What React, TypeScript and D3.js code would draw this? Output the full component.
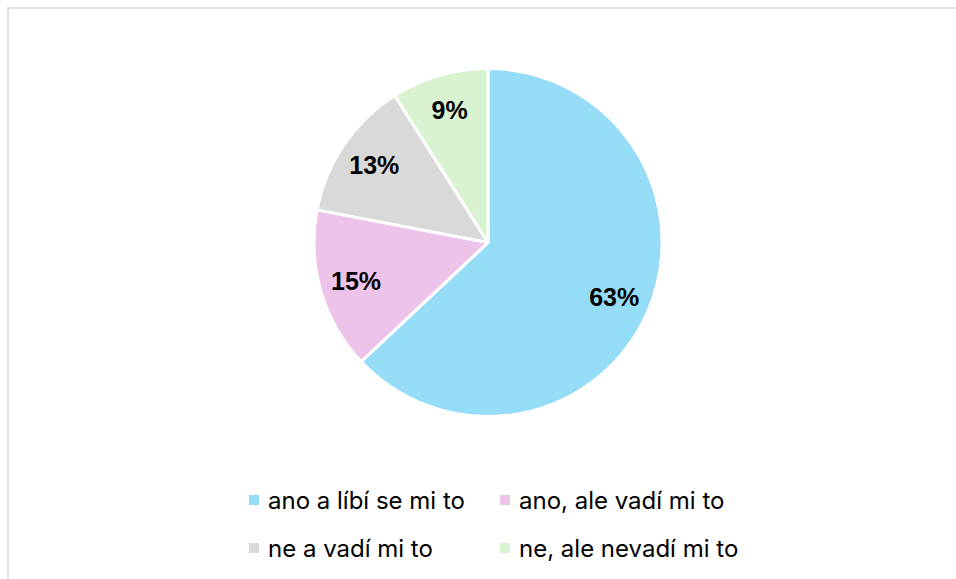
import { useEffect, useRef } from 'react'
import * as d3 from 'd3'

const categories = ['ano a líbí se mi to', 'ano, ale vadí mi to', 'ne a vadí mi to', 'ne, ale nevadí mi to']
const values = [63, 15, 13, 9]
const colors = ['#95dcf7', '#eec3ea', '#d9d9d9', '#d9f2d0']

export default function App() {
  const ref = useRef<SVGSVGElement>(null)

  useEffect(() => {
    if (!ref.current) return
    const width = 956, height = 579
    const cx = 488, cy = 242.5, radius = 174

    const svg = d3.select(ref.current)
    svg.selectAll('*').remove()

    // chart frame, cut off on right and bottom
    svg.append('rect')
      .attr('x', 8).attr('y', 8)
      .attr('width', width + 20).attr('height', height + 20)
      .attr('fill', '#fff')
      .attr('stroke', '#d9d9d9')
      .attr('stroke-width', 1.5)

    const data = categories.map((c, i) => ({ label: c, value: values[i], color: colors[i] }))
    const pie = d3.pie<any>().sort(null).value(d => d.value)
    const arcs = pie(data)
    const arc = d3.arc<any>().innerRadius(0).outerRadius(radius)
    const labelArc = d3.arc<any>().innerRadius(radius * 0.79).outerRadius(radius * 0.79)

    const g = svg.append('g').attr('transform', `translate(${cx},${cy})`)

    g.selectAll('path')
      .data(arcs)
      .join('path')
      .attr('d', arc)
      .attr('fill', d => d.data.color)
      .attr('stroke', '#fff')
      .attr('stroke-width', 3)
      .attr('stroke-linejoin', 'round')

    g.selectAll('text')
      .data(arcs)
      .join('text')
      .attr('transform', d => `translate(${labelArc.centroid(d)})`)
      .attr('text-anchor', 'middle')
      .attr('dy', '0.36em')
      .style('font-family', '"Liberation Sans", Arial, sans-serif')
      .style('font-weight', 'bold')
      .style('font-size', '25px')
      .attr('fill', '#000')
      .text(d => `${d.data.value}%`)

    // legend, 2 columns x 2 rows
    const col = d3.scaleOrdinal<number, number>().domain([0, 1]).range([249, 500])
    const row = d3.scaleOrdinal<number, number>().domain([0, 1]).range([500, 548])

    const legend = svg.append('g')
    data.forEach((d, i) => {
      const x = col(i % 2), y = row(Math.floor(i / 2))
      legend.append('rect')
        .attr('x', x).attr('y', y - 5)
        .attr('width', 10).attr('height', 10)
        .attr('fill', d.color)
      legend.append('text')
        .attr('x', x + 19).attr('y', y)
        .attr('dy', '0.36em')
        .style('font-family', 'Inter, "Noto Sans", sans-serif')
        .style('font-size', '24px')
        .attr('fill', '#000')
        .text(d.label)
    })
  }, [])

  return (
    <svg ref={ref} width={956} height={579}
      style={{ position: 'fixed', left: 0, top: 0, background: '#fff' }} />
  )
}
